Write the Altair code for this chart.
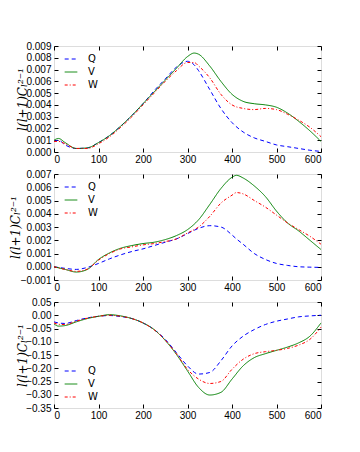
import altair as alt
import pandas as pd

SERIES = ["Q", "V", "W"]
COLORS = ["#0000ff", "#008000", "#ff0000"]
DASHES = [[4, 3], [1, 0], [3, 2, 1, 2]]

X_TICKS = [0, 100, 200, 300, 400, 500, 600]

# ---------- panel 1 ----------
P1_L = [0, 10, 25, 50, 75, 100, 125, 150, 175, 200, 225, 250, 275, 300, 315, 325, 350, 375, 400, 425, 450, 475, 500, 525, 550, 575, 600]
P1_Q = [0.0009, 0.0010, 0.0006, 0.0003, 0.00035, 0.0008, 0.0014, 0.0022, 0.0031, 0.0041, 0.0052, 0.0062, 0.0072, 0.0077, 0.0074, 0.0069, 0.0053, 0.0037, 0.0025, 0.0017, 0.0012, 0.0009, 0.0006, 0.00045, 0.0003, 0.00015, 0.00005]
P1_V = [0.0010, 0.00115, 0.0008, 0.0003, 0.00035, 0.0008, 0.0014, 0.0022, 0.0031, 0.0041, 0.0051, 0.0061, 0.0071, 0.0081, 0.0084, 0.0083, 0.0073, 0.0060, 0.0049, 0.0043, 0.0041, 0.0040, 0.0038, 0.0033, 0.0026, 0.0018, 0.0009]
P1_W = [0.0009, 0.0009, 0.0007, 0.0003, 0.0003, 0.0007, 0.0013, 0.0021, 0.0030, 0.0040, 0.0050, 0.0060, 0.0069, 0.0076, 0.0076, 0.0073, 0.0063, 0.0049, 0.0040, 0.0037, 0.0036, 0.0037, 0.0036, 0.0032, 0.0027, 0.0021, 0.0013]
P1_TICKS = [0.0, 0.001, 0.002, 0.003, 0.004, 0.005, 0.006, 0.007, 0.008, 0.009]

# ---------- panel 2 ----------
P2_L = [0, 25, 50, 75, 100, 125, 150, 175, 200, 225, 250, 275, 300, 325, 350, 375, 400, 410, 425, 450, 475, 500, 525, 550, 575, 600]
P2_Q = [0.0, -0.00012, -0.0002, -0.00005, 0.00025, 0.0006, 0.0009, 0.00115, 0.00135, 0.0016, 0.00185, 0.0021, 0.0025, 0.0029, 0.0031, 0.0030, 0.0024, 0.0021, 0.0017, 0.0010, 0.00055, 0.00025, 0.0001, 0.0, -0.00003, -0.00005]
P2_V = [0.0, -0.0002, -0.0004, -0.0002, 0.00055, 0.00105, 0.0014, 0.0016, 0.00175, 0.00185, 0.00205, 0.00235, 0.0028, 0.00355, 0.0047, 0.0059, 0.00675, 0.0069, 0.0067, 0.0061, 0.0053, 0.0042, 0.0033, 0.0027, 0.0020, 0.0013]
P2_W = [0.0, -0.0002, -0.00035, -0.00018, 0.0005, 0.0010, 0.00135, 0.0015, 0.00165, 0.00175, 0.0019, 0.0021, 0.00255, 0.0030, 0.0038, 0.0048, 0.0054, 0.0056, 0.0055, 0.0050, 0.0045, 0.0039, 0.0033, 0.0028, 0.0023, 0.0017]
P2_TICKS = [-0.001, 0.0, 0.001, 0.002, 0.003, 0.004, 0.005, 0.006, 0.007]

# ---------- panel 3 ----------
P3_L = [0, 10, 25, 50, 75, 100, 125, 150, 175, 200, 225, 250, 275, 300, 325, 350, 375, 400, 425, 450, 475, 500, 525, 550, 575, 600]
P3_Q = [-0.025, -0.029, -0.031, -0.02, -0.01, -0.004, -0.001, -0.005, -0.0125, -0.029, -0.054, -0.091, -0.141, -0.191, -0.222, -0.216, -0.172, -0.116, -0.079, -0.054, -0.035, -0.0225, -0.014, -0.006, -0.0025, 0.0]
P3_V = [-0.0325, -0.041, -0.039, -0.025, -0.0125, -0.004, 0.002, -0.0025, -0.0125, -0.029, -0.054, -0.095, -0.1475, -0.21, -0.2725, -0.301, -0.291, -0.241, -0.191, -0.16, -0.145, -0.1325, -0.12, -0.104, -0.079, -0.029]
P3_W = [-0.029, -0.034, -0.035, -0.0225, -0.011, -0.004, 0.0, -0.004, -0.0125, -0.029, -0.055, -0.094, -0.145, -0.204, -0.241, -0.2575, -0.25, -0.204, -0.166, -0.145, -0.1375, -0.1325, -0.125, -0.1125, -0.091, -0.045]
P3_TICKS = [-0.35, -0.30, -0.25, -0.20, -0.15, -0.10, -0.05, 0.0, 0.05]

Y_TITLE = "l(l+1)Cₗ²⁻¹"

W, H = 267, 106


def frame(ls, q, v, w):
    rows = []
    for name, vals in zip(SERIES, [q, v, w]):
        for l, y in zip(ls, vals):
            rows.append({"l": l, "v": y, "series": name})
    return pd.DataFrame(rows)


def panel(df, ydom, yticks, fmt, legend_y, title_pad):
    leg = alt.Legend(
        title=None, orient="none", legendX=10, legendY=legend_y,
        symbolType="stroke", symbolSize=160, symbolStrokeWidth=1,
        labelFontSize=10, labelFont="DejaVu Sans", labelOffset=10,
        rowPadding=1, labelColor="black",
    )
    xs = alt.Scale(domain=[0, 600], nice=False)
    ys = alt.Scale(domain=ydom, nice=False, zero=False)
    base = alt.Chart(df)
    main = base.mark_line(strokeWidth=1, interpolate="monotone").encode(
        x=alt.X("l:Q", scale=xs, axis=alt.Axis(
            orient="bottom", values=X_TICKS, format="d", tickSize=0, labelPadding=2,
            domain=False, grid=False, title=None)),
        y=alt.Y("v:Q", scale=ys, axis=alt.Axis(
            orient="left", values=yticks, format=fmt, tickSize=0, labelPadding=3,
            domain=False, grid=False, title=Y_TITLE, minExtent=24, maxExtent=24,
            titlePadding=title_pad, titleFont="DejaVu Serif", titleFontStyle="italic",
            titleFontWeight="normal", titleFontSize=12, titleColor="black")),
        color=alt.Color("series:N", scale=alt.Scale(domain=SERIES, range=COLORS), legend=leg),
        strokeDash=alt.StrokeDash("series:N", scale=alt.Scale(domain=SERIES, range=DASHES), legend=leg),
        detail="series:N",
    )
    tick_a = base.mark_line(opacity=0).encode(
        x=alt.X("l:Q", scale=xs, axis=alt.Axis(
            orient="top", offset=-H, values=X_TICKS, labels=False, domain=False,
            grid=False, tickSize=4, tickColor="black", title=None)),
        y=alt.Y("v:Q", scale=ys, axis=alt.Axis(
            orient="right", offset=-W, values=yticks, labels=False, domain=False,
            grid=False, tickSize=4, tickColor="black", title=None)),
        detail="series:N",
    )
    tick_b = base.mark_line(opacity=0).encode(
        x=alt.X("l:Q", scale=xs, axis=alt.Axis(
            orient="bottom", offset=-H, values=X_TICKS, labels=False, domain=False,
            grid=False, tickSize=4, tickColor="black", title=None)),
        y=alt.Y("v:Q", scale=ys, axis=alt.Axis(
            orient="left", offset=-W, values=yticks, labels=False, domain=False,
            grid=False, tickSize=4, tickColor="black", title=None)),
        detail="series:N",
    )
    return alt.layer(main, tick_a, tick_b).resolve_axis(
        x="independent", y="independent").properties(width=W, height=H)


c1 = panel(frame(P1_L, P1_Q, P1_V, P1_W), [0, 0.009], P1_TICKS, ".3f", 6, 1)
c2 = panel(frame(P2_L, P2_Q, P2_V, P2_W), [-0.001, 0.007], P2_TICKS, ".3f", 6, 8)
c3 = panel(frame(P3_L, P3_Q, P3_V, P3_W), [-0.35, 0.05], P3_TICKS, ".2f", 62, 1)

chart = alt.vconcat(c1, c2, c3, spacing=3).resolve_scale(
    color="independent", strokeDash="independent", y="independent"
).resolve_legend(
    color="independent", strokeDash="independent"
).properties(
    padding={"top": 32, "left": 0, "right": 0, "bottom": 0}
).configure_view(stroke="black", strokeWidth=1).configure_axis(
    labelFont="DejaVu Sans", labelFontSize=7.5, labelColor="black"
).configure(background="white")

chart.save("out.html", embed_options={"renderer": "svg", "actions": False})
